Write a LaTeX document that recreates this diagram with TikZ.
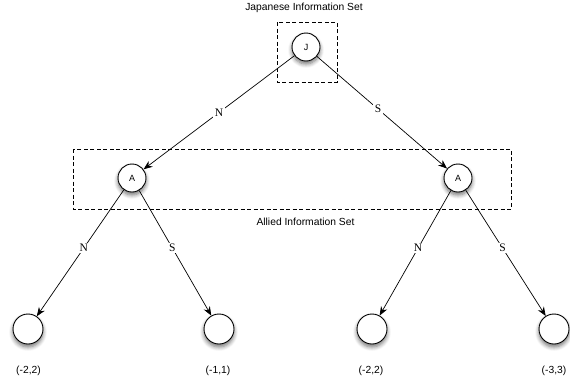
\documentclass[tikz,border=0pt]{standalone}
\usepackage{fontspec}
\setmainfont{Liberation Sans}
\newfontfamily\serifl{Liberation Serif}
\usetikzlibrary{arrows.meta,shadows.blur}
\begin{document}
\begin{tikzpicture}[x=1pt,y=-1pt,
  dec/.style={circle,draw=black,line width=0.9pt,fill=white,minimum size=28pt,inner sep=0pt,font=\fontsize{9}{10}\selectfont,
    blur shadow={shadow xshift=0pt,shadow yshift=-3pt,shadow blur steps=6,shadow blur radius=4pt,shadow opacity=55}},
  leaf/.style={dec,minimum size=30pt},
  edge/.style={line width=0.7pt,-{Stealth[length=9pt,width=7pt]}},
  elab/.style={fill=white,inner sep=1.5pt,font=\serifl\fontsize{11.5}{12}\selectfont},
  infobox/.style={draw,line width=0.7pt,dash pattern=on 4pt off 2.5pt},
  txt/.style={font=\fontsize{10.3}{12}\selectfont,inner sep=0pt}]
\useasboundingbox (0,0) rectangle (570,383);
\draw[infobox] (277,22) rectangle (337,82);
\draw[infobox] (73,149) rectangle (511,209);
\node[txt] (jis) at (304,8) {Japanese Information Set};
\node[txt] (ais) at (305.5,222) {Allied Information Set};
\node[dec] (J) at (306,47) {J};
\node[dec] (A1) at (132,178) {A};
\node[dec] (A2) at (458,178) {A};
\node[leaf] (L1) at (28,329) {};
\node[leaf] (L2) at (219,329) {};
\node[leaf] (L3) at (372,329) {};
\node[leaf] (L4) at (554,329) {};
\node[txt] (p1) at (28.5,371) {(-2,2)};
\node[txt] (p2) at (218,371) {(-1,1)};
\node[txt] (p3) at (371,371) {(-2,2)};
\node[txt] (p4) at (554,371) {(-3,3)};
\draw[edge] (J) -- node[elab,pos=0.5] {N} (A1);
\draw[edge] (J) -- node[elab,pos=0.47] {S} (A2);
\draw[edge] (A1) -- node[elab,pos=0.46] {N} (L1);
\draw[edge] (A1) -- node[elab,pos=0.46] {S} (L2);
\draw[edge] (A2) -- node[elab,pos=0.46] {N} (L3);
\draw[edge] (A2) -- node[elab,pos=0.46] {S} (L4);
\end{tikzpicture}
\end{document}
